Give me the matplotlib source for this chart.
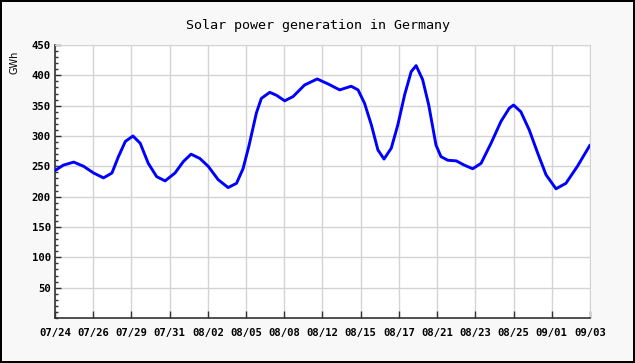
#!/usr/bin/env python3
import matplotlib
matplotlib.use("Agg")
import matplotlib.pyplot as plt
from matplotlib.ticker import MultipleLocator

# category labels along the x axis
date_labels = ["07/24", "07/26", "07/29", "07/31", "08/02", "08/05", "08/08",
               "08/12", "08/15", "08/17", "08/21", "08/23", "08/25", "09/01",
               "09/03"]

# curve samples (position in label units, GWh)
curve_pos = [0.0, 0.22, 0.49, 0.75, 1.01, 1.27, 1.49, 1.66, 1.84, 2.04,
             2.23, 2.44, 2.66, 2.88, 3.14, 3.36, 3.56, 3.79, 4.01, 4.27,
             4.53, 4.75, 4.92, 5.08, 5.27, 5.4, 5.62, 5.8, 6.01, 6.23,
             6.53, 6.86, 7.14, 7.45, 7.75, 7.93, 8.1, 8.28, 8.45, 8.61,
             8.8, 8.97, 9.15, 9.32, 9.45, 9.62, 9.78, 9.97, 10.1, 10.28,
             10.5, 10.71, 10.93, 11.15, 11.41, 11.67, 11.89, 12.0, 12.19,
             12.41, 12.63, 12.85, 13.11, 13.37, 13.67, 14.0]
curve_gwh = [243, 252, 257, 250, 239, 231, 239, 266, 291, 300,
             288, 255, 233, 226, 239, 258, 270, 263, 250, 228,
             215, 222, 246, 285, 338, 362, 372, 367, 358, 365,
             384, 394, 386, 376, 382, 376, 354, 318, 277, 262,
             280, 318, 368, 406, 416, 393, 351, 285, 266, 260,
             259, 252, 246, 255, 288, 324, 346, 351, 340,
             310, 272, 236, 213, 222, 250, 285]

y_ticks = [50, 100, 150, 200, 250, 300, 350, 400, 450]

fig = plt.figure(figsize=(6.35, 3.63), dpi=100)
fig.patch.set_facecolor("#f8f8f8")
fig.patch.set_edgecolor("black")
fig.patch.set_linewidth(1.5)

ax = fig.add_axes([55/635, 45/363, 535/635, 273/363])
ax.set_facecolor("white")
ax.plot(curve_pos, curve_gwh, color="#0000ff", lw=2.1, solid_joinstyle="round",
        solid_capstyle="round", zorder=3)

ax.set_xlim(0, len(date_labels) - 1)
ax.set_ylim(0, 450)
ax.set_xticks(range(len(date_labels)))
ax.set_xticklabels(date_labels)
ax.set_yticks(y_ticks)
ax.yaxis.set_minor_locator(MultipleLocator(10))
ax.grid(True, which="major", color="#d4d4d4", lw=1)
ax.set_axisbelow(True)

mono = "DejaVu Sans Mono"
for lab in ax.get_xticklabels() + ax.get_yticklabels():
    lab.set_fontfamily(mono)
    lab.set_fontweight("bold")
    lab.set_fontsize(7.7)
ax.tick_params(axis="x", direction="in", length=5, width=1, color="#333333", pad=7)
ax.tick_params(axis="y", direction="in", length=4, width=1, color="#333333", pad=3)
ax.tick_params(axis="y", which="minor", direction="in", length=2, width=1, color="#333333")

for side in ("top", "right"):
    ax.spines[side].set_color("#d4d4d4")
for side in ("left", "bottom"):
    ax.spines[side].set_color("#333333")
    ax.spines[side].set_linewidth(1.2)

fig.text(0.5, 1 - 26/363, "Solar power generation in Germany", ha="center",
         va="center", fontfamily=mono, fontsize=9.6)
fig.text(14/635, 1 - 62/363, "GWh", rotation=90, ha="center", va="center",
         fontfamily="DejaVu Sans", fontsize=7)

fig.savefig("out.png", dpi=100, facecolor=fig.get_facecolor(),
            edgecolor=fig.get_edgecolor())
